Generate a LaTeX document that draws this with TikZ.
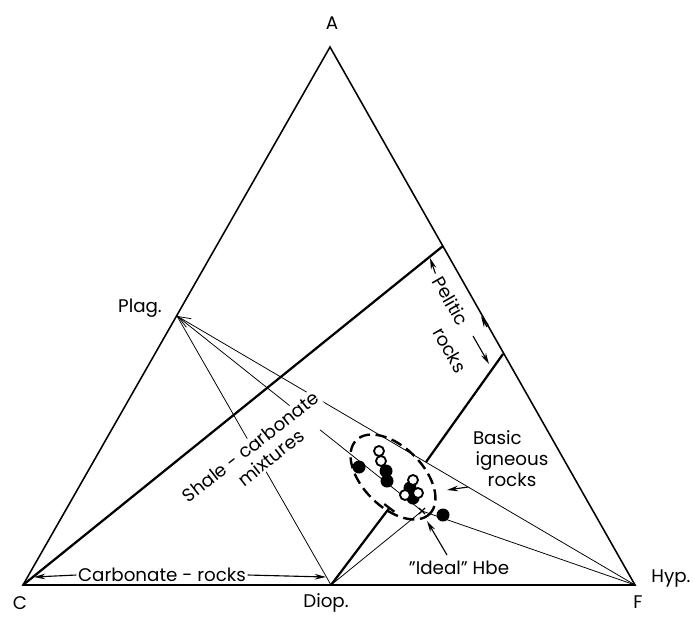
\documentclass[tikz,border=0pt]{standalone}
\usepackage{fontspec}
\setmainfont{Poppins}
\usetikzlibrary{arrows.meta}
\newcommand{\epais}[0]{ultra thick}
\newcommand{\plein}[1]{\fill (#1) circle (6.5)}
\newcommand{\vide}[1]{\draw[line width=1.3pt,fill=white] (#1) circle (5)}
\tikzset{
  cote/.style={line width=1.1pt},
  trait/.style={line width=0.55pt},
  lbl/.style={font=\fontsize{13}{15}\selectfont},
  etiq/.style={lbl,fill=white,inner sep=1pt},
  fleche/.style={line width=0.8pt,-{Stealth[length=8pt,width=4pt]}}
}

\begin{document}
\begin{tikzpicture}[x=0.025cm,y=-0.025cm]
\useasboundingbox (0,0) rectangle (694,616);
%Corners
	\coordinate (A) at (330,47);
	\coordinate (C) at (23,585);
	\coordinate (F) at (635,585);
	\coordinate (plag) at (177,316);
	\coordinate (diop) at (331,585);
	\coordinate (pel1) at (443,246);
	\coordinate (pel2) at (503,354);
	\coordinate (hbe) at (422,511);
	\coordinate (bar) at (390,507);
	\coordinate (ent) at (426,462);
%Tie lines
	\draw[trait] (plag) -- (diop);
	\draw[trait,{Straight Barb[length=9pt,width=7pt]}-] (plag) -- (F);
	\draw[trait] (plag) -- (hbe);
	\draw[trait] (diop) -- (hbe);
	\draw[trait] (hbe) -- (F);
%Borders
	\draw[cote] (A) -- (C) -- (F) -- cycle;
	\draw[\epais] (C) -- (pel1);
	\draw[\epais,-{Bar[width=9pt]}] (diop) -- (bar);
	\draw[\epais] (ent) -- (pel2);
%Analyses
	\draw[line width=1.7pt,dash pattern=on 8pt off 4pt] (393,477) ellipse [x radius=52,y radius=30,rotate=-45];
	\plein{359,467};
	\plein{386,471};
	\plein{387,481};
	\plein{410,488};
	\plein{413,498};
	\plein{443,515};
	\vide{379,451};
	\vide{381,461};
	\vide{413,480};
	\vide{405,495};
	\vide{418,493};
	\draw[line width=0.8pt] (hbe) ++(-3,-3) -- ++(6,6) ++(-6,0) -- ++(6,-6);
%Labels
	\node[lbl] (la) at (332,23) {A};
	\node[lbl] (lc) at (20,603) {C};
	\node[lbl] (lf) at (638,602) {F};
	\node[lbl] (ldiop) at (326,603) {Diop.};
	\node[lbl] (lhyp) at (671,578) {Hyp.};
	\node[lbl] (lplag) at (140,308) {Plag.};
	\node[etiq] (carb) at (162,575) {Carbonate - rocks};
	\coordinate (cg) at (34,577);
	\coordinate (cd) at (326,577);
	\draw[fleche] (carb.west) -- (cg);
	\draw[fleche] (carb.east) -- (cd);
	\node[etiq,rotate=38,align=center] (shale) at (257,455) {Shale - carbonate\\\hspace*{1em}mixtures};
	\node[lbl,rotate=-60.4] (pelit) at (451,301) {Pelitic};
	\node[lbl,rotate=-60.4] (rocks) at (450,350) {rocks};
	\coordinate (p1) at (430,258);
	\coordinate (p2) at (489,364);
	\coordinate (p3) at (481,316);
	\draw[fleche] (pelit.west) -- (p1);
	\draw[fleche] (473,336) -- (p2);
	\draw[fleche] (487,327) -- (p3);
	\node[lbl,align=center] (basic) at (512,459) {Basic\hspace*{1.6em}\\igneous\\rocks};
	\node[lbl] (ideal) at (459,568) {"Ideal" Hbe};
	\coordinate (b1) at (447,490);
	\coordinate (i1) at (427,521);
	\draw[fleche] (basic.west |- 0,487) -- (b1);
	\draw[fleche] (447,555) -- (i1);
\end{tikzpicture}
\end{document}
